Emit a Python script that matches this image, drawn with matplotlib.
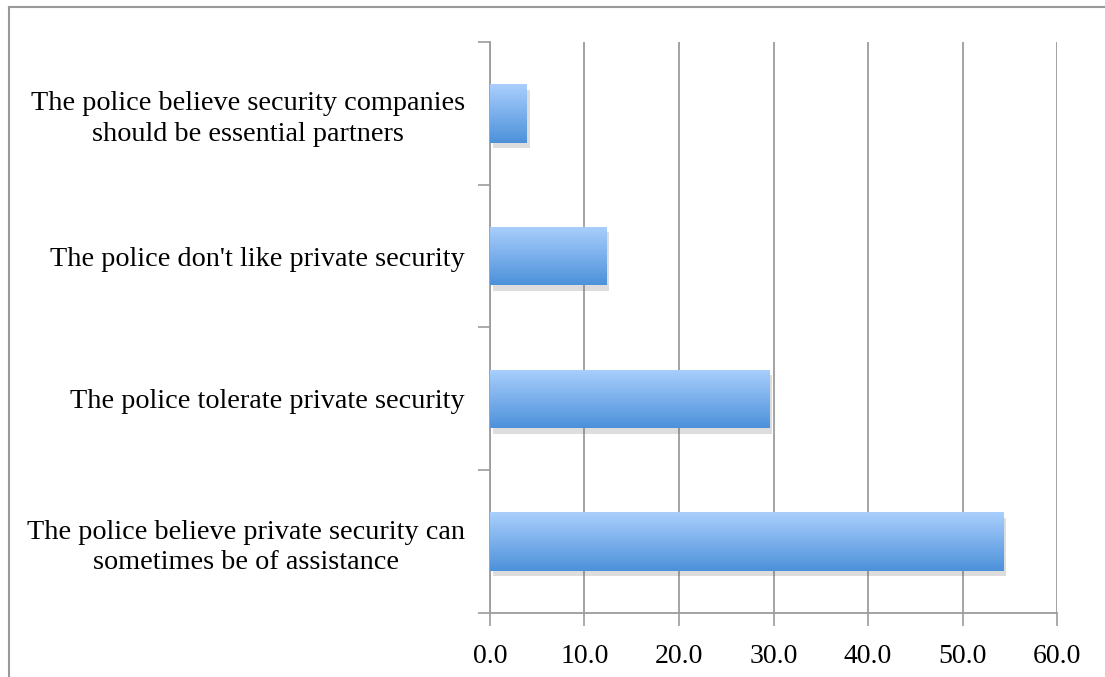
import numpy as np
import matplotlib
matplotlib.use('Agg')
import matplotlib.pyplot as plt
import matplotlib.patheffects as pe
from matplotlib.colors import LinearSegmentedColormap
from matplotlib.lines import Line2D

categories = ['The police believe security companies\nshould be essential partners',
              "The police don't like private security",
              'The police tolerate private security',
              'The police believe private security can\nsometimes be of assistance']
values = [3.9, 12.3, 29.6, 54.3]
xticks = [0, 10, 20, 30, 40, 50, 60]

plt.rcParams['font.family'] = ['Liberation Serif']
grid_col = '#9c9c9c'

fig = plt.figure(figsize=(11.05, 6.77), dpi=100)
ax = fig.add_axes([0.4434, 0.0945, 0.9566 - 0.4434, 0.938 - 0.0945])

ypos = np.arange(len(categories))
bars = ax.barh(ypos, values, height=0.41, color='#7fb0ea', zorder=3,
               path_effects=[pe.SimplePatchShadow(offset=(2, -4), shadow_rgbFace='#666666', alpha=0.22),
                             pe.Normal()])

# vertical gradient inside each bar
cmap = LinearSegmentedColormap.from_list('bar', ['#aacffd', '#4c91da'])
grad = np.linspace(0, 1, 256).reshape(-1, 1)
for b in bars:
    x0, y0 = b.get_x(), b.get_y()
    w, h = b.get_width(), b.get_height()
    im = ax.imshow(grad, cmap=cmap, aspect='auto', extent=[x0, x0 + w, y0 + h, y0],
                   origin='upper', zorder=4)
    im.set_clip_path(b)

ax.set_xlim(0, 60)
ax.set_ylim(len(categories) - 0.5, -0.5)
ax.set_xticks(xticks)
ax.set_xticklabels(['{:.1f}'.format(v) for v in xticks], fontsize=20)
ax.set_yticks(ypos)
ax.set_yticklabels(categories, fontsize=20.3, ha='right', multialignment='center', linespacing=1.3)
ax.set_yticks(np.arange(-0.5, len(categories)), minor=True)

ax.tick_params(axis='y', which='major', length=0, pad=18)
ax.tick_params(axis='y', which='minor', length=9, width=1.2, color=grid_col, direction='out')
ax.tick_params(axis='x', length=9, width=1.2, color=grid_col, pad=13)

ax.grid(axis='x', color=grid_col, linewidth=1.3, zorder=0)
ax.set_axisbelow(True)
for s in ['top', 'right']:
    ax.spines[s].set_visible(False)
for s in ['left', 'bottom']:
    ax.spines[s].set_color(grid_col)
    ax.spines[s].set_linewidth(1.3)

# outer chart frame (left and top edges only)
fig.add_artist(Line2D([0.008, 0.008], [0, 0.99], color='#999999', linewidth=1.5))
fig.add_artist(Line2D([0.008, 1.0], [0.99, 0.99], color='#999999', linewidth=1.5))

fig.savefig('out.png', dpi=100, facecolor='white')
